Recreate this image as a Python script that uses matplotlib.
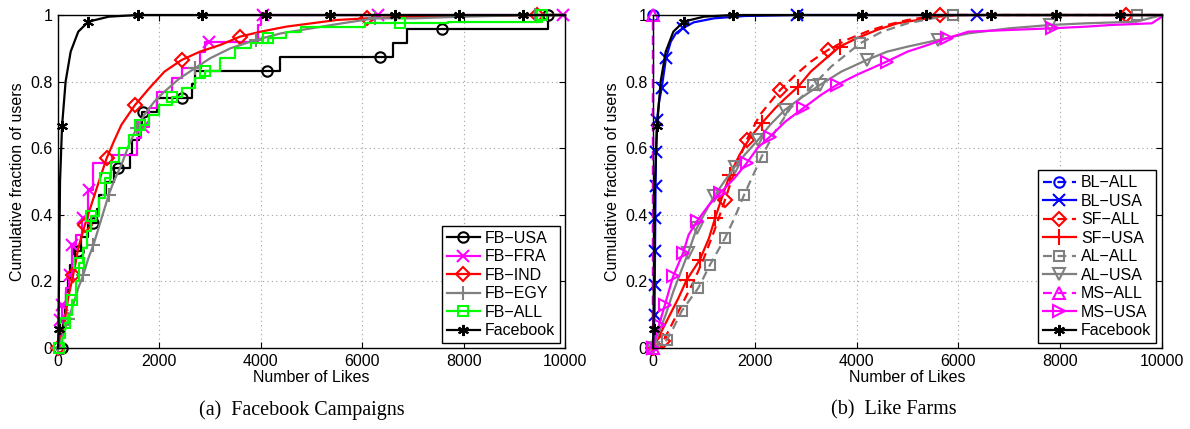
import numpy as np
import matplotlib
matplotlib.use("Agg")
import matplotlib.pyplot as plt

plt.rcParams['font.family'] = ['Liberation Sans', 'DejaVu Sans']

# ---------------- Panel (a): Facebook Campaigns ----------------
fb_x = [0, 10, 40, 80, 150, 250, 400, 600, 1000, 1570, 2840, 4100, 5370, 6650, 7910, 9170, 10000]
fb_y = [0, 0.057, 0.5, 0.667, 0.8, 0.89, 0.95, 0.98, 0.995, 1.0, 1.0, 1.0, 1.0, 1.0, 1.0, 1.0, 1.0]
fb_marks = [1, 3, 7, 9, 10, 11, 12, 13, 14, 15]

usa_x = [0, 70, 80, 100, 130, 160, 200, 240, 330, 400, 450, 600, 700, 760, 800, 950, 1100, 1180, 1420,
         1450, 1600, 1650, 1680, 1950, 2440, 2650, 2700, 4115, 4380, 6350, 6610, 6880, 7580, 9670, 10000]
usa_y = [0, 0, 0.042, 0.083, 0.125, 0.167, 0.208, 0.25, 0.292, 0.292, 0.333, 0.375, 0.375, 0.417, 0.458,
         0.5, 0.542, 0.542, 0.583, 0.625, 0.667, 0.708, 0.708, 0.75, 0.75, 0.792, 0.833, 0.833, 0.875,
         0.875, 0.917, 0.958, 0.958, 1.0, 1.0]
usa_marks = [1, 9, 12, 17, 22, 24, 27, 29, 32, 33]

fra_x = [0, 40, 70, 150, 220, 240, 270, 350, 480, 490, 600, 610, 690, 1070, 1550, 1640, 1670, 1800, 1950,
         2250, 2450, 2800, 2900, 2980, 3950, 4000, 4040, 6310, 9960, 10000]
fra_y = [0, 0.085, 0.13, 0.18, 0.22, 0.22, 0.31, 0.34, 0.39, 0.39, 0.475, 0.475, 0.555, 0.58, 0.63,
         0.665, 0.665, 0.72, 0.77, 0.81, 0.84, 0.89, 0.92, 0.92, 0.97, 1.0, 1.0, 1.0, 1.0, 1.0]
fra_marks = [1, 2, 5, 6, 9, 11, 16, 23, 26, 27, 28]

ind_x = [0, 100, 200, 300, 400, 530, 700, 850, 960, 1100, 1250, 1520, 1800, 2100, 2440, 2800, 3200,
         3590, 4000, 4500, 5000, 5500, 6090, 7000, 9440, 10000]
ind_y = [0, 0.05, 0.15, 0.22, 0.3, 0.37, 0.45, 0.52, 0.57, 0.62, 0.67, 0.73, 0.78, 0.83, 0.865, 0.89,
         0.91, 0.935, 0.95, 0.965, 0.975, 0.985, 0.99, 0.995, 1.0, 1.0]
ind_marks = [0, 3, 5, 8, 11, 14, 17, 22, 24]

egy_x = [0, 100, 200, 300, 400, 500, 600, 700, 800, 900, 1000, 1100, 1250, 1400, 1550, 1700, 1900, 2100,
         2400, 2700, 3000, 3400, 3900, 4400, 5000, 5600, 6250, 7000, 8000, 9400, 10000]
egy_y = [0, 0.04, 0.086, 0.13, 0.18, 0.22, 0.27, 0.31, 0.36, 0.41, 0.46, 0.5, 0.55, 0.61, 0.66, 0.7,
         0.74, 0.77, 0.81, 0.84, 0.87, 0.9, 0.925, 0.945, 0.96, 0.975, 0.99, 0.99, 0.995, 1.0, 1.0]
egy_marks = [0, 2, 5, 7, 10, 14, 19, 22, 26, 29]

all_x = [0, 20, 80, 140, 200, 270, 350, 420, 500, 580, 660, 800, 930, 1050, 1200, 1400, 1620, 1800,
         2000, 2240, 2450, 2700, 2900, 3200, 3500, 3800, 4150, 4500, 4800, 6055, 6750, 7700, 9500, 9540, 10000]
all_y = [0, 0, 0.03, 0.074, 0.1, 0.144, 0.2, 0.255, 0.3, 0.35, 0.396, 0.45, 0.51, 0.56, 0.6, 0.64, 0.67,
         0.7, 0.73, 0.753, 0.78, 0.81, 0.833, 0.87, 0.9, 0.915, 0.93, 0.95, 0.965, 0.975, 0.975, 0.98, 0.98,
         1.0, 1.0]
all_marks = [1, 3, 5, 7, 10, 12, 16, 19, 22, 26, 30, 33]

# ---------------- Panel (b): Like Farms ----------------
blall_x = [0, 0]
blall_y = [0, 1.0]

blusa_x = [0, 30, 35, 40, 45, 50, 60, 80, 120, 170, 255, 350, 450, 580, 800, 1200, 1800, 2820, 6370, 10000]
blusa_y = [0, 0.1, 0.19, 0.29, 0.39, 0.485, 0.59, 0.685, 0.74, 0.78, 0.87, 0.92, 0.945, 0.96, 0.978,
           0.99, 0.997, 1.0, 1.0, 1.0]
blusa_marks = [1, 2, 3, 4, 5, 6, 7, 9, 10, 13, 17, 18]

sfall_x = [0, 200, 400, 600, 800, 1000, 1200, 1415, 1600, 1840, 2100, 2500, 2800, 3100, 3440, 3800,
           4200, 4600, 5000, 5640, 9300, 10000]
sfall_y = [0, 0.02, 0.08, 0.14, 0.2, 0.27, 0.35, 0.445, 0.53, 0.625, 0.7, 0.775, 0.82, 0.86, 0.895,
           0.925, 0.95, 0.97, 0.985, 1.0, 1.0, 1.0]
sfall_marks = [1, 7, 9, 11, 14, 19, 20]

sfusa_x = [0, 100, 300, 500, 660, 920, 1100, 1220, 1350, 1510, 1700, 1900, 2135, 2400, 2600, 2855,
           3100, 3400, 3670, 4000, 4400, 4800, 5200, 5600, 6000, 10000]
sfusa_y = [0, 0.03, 0.09, 0.15, 0.204, 0.265, 0.33, 0.39, 0.45, 0.52, 0.58, 0.63, 0.675, 0.72, 0.75,
           0.785, 0.83, 0.87, 0.905, 0.93, 0.955, 0.975, 0.985, 0.995, 1.0, 1.0]
sfusa_marks = [0, 4, 5, 7, 9, 12, 15, 18]

alall_x = [0, 100, 270, 400, 560, 700, 890, 1120, 1415, 1600, 1790, 2000, 2135, 2400, 2700, 3150, 3500,
           4070, 4500, 5000, 5500, 5890, 9510, 10000]
alall_y = [0, 0.005, 0.024, 0.06, 0.11, 0.14, 0.18, 0.25, 0.33, 0.39, 0.46, 0.53, 0.575, 0.65, 0.72,
           0.79, 0.845, 0.915, 0.95, 0.975, 0.99, 1.0, 1.0, 1.0]
alall_marks = [2, 4, 6, 7, 8, 10, 12, 15, 17, 21, 22]

alusa_x = [0, 100, 250, 400, 550, 690, 860, 1000, 1200, 1400, 1610, 1800, 2065, 2300, 2590, 2900, 3280,
           3700, 4200, 4600, 5000, 5600, 6200, 7000, 7800, 8500, 9500, 10000]
alusa_y = [0, 0.04, 0.1, 0.17, 0.23, 0.285, 0.36, 0.4, 0.455, 0.5, 0.545, 0.58, 0.625, 0.67, 0.715,
           0.75, 0.79, 0.83, 0.865, 0.89, 0.905, 0.925, 0.945, 0.96, 0.97, 0.975, 0.98, 1.0]
alusa_marks = [0, 5, 6, 8, 10, 12, 14, 16, 18, 21, 24]

msall_x = [0, 0]
msall_y = [0, 1.0]

msusa_x = [0, 50, 120, 235, 395, 590, 700, 860, 1100, 1315, 1600, 1840, 2050, 2300, 2600, 2950, 3300,
           3610, 4000, 4590, 5000, 5400, 5770, 6200, 7000, 7830, 8500, 9000, 9800, 10000]
msusa_y = [0, 0.03, 0.07, 0.13, 0.215, 0.285, 0.34, 0.38, 0.43, 0.465, 0.51, 0.555, 0.6, 0.635, 0.68,
           0.72, 0.76, 0.79, 0.82, 0.86, 0.89, 0.91, 0.93, 0.95, 0.955, 0.96, 0.965, 0.97, 0.975, 0.995]
msusa_marks = [0, 2, 3, 4, 5, 7, 9, 11, 13, 15, 17, 19, 22, 25]

x_ticks = [0, 2000, 4000, 6000, 8000, 10000]
y_ticks = [0, 0.2, 0.4, 0.6, 0.8, 1.0]
y_tick_labels = ['0', '0.2', '0.4', '0.6', '0.8', '1']

BLACK = '#000000'
MAGENTA = '#FF00FF'
RED = '#FF0000'
GRAY = '#808080'
GREEN = '#00FF00'
BLUE = '#0000FF'

FS = 11.5
LW = 1.6
MS = 7.5

fig = plt.figure(figsize=(11.9, 4.29), dpi=100)
axa = fig.add_axes([58 / 1190, 81 / 429, 507 / 1190, 333 / 429])
axb = fig.add_axes([653 / 1190, 81 / 429, 509 / 1190, 333 / 429])


def draw(ax, x, y, color, marker, label, marks, ls='-', steps=False, ms=MS):
    ax.plot(x, y, color=color, ls=ls, lw=LW, marker=marker, markevery=marks, ms=ms,
            mfc='none', mec=color, mew=1.5, label=label, clip_on=False,
            drawstyle='steps-post' if steps else 'default', dashes=(4, 2.5) if ls == '--' else (None, None))


def style(ax):
    ax.set_xlim(0, 10000)
    ax.set_ylim(0, 1)
    ax.set_xticks(x_ticks)
    ax.set_xticklabels([str(t) for t in x_ticks])
    ax.set_yticks(y_ticks)
    ax.set_yticklabels(y_tick_labels)
    ax.tick_params(direction='in', top=True, right=True, labelsize=FS, length=4, width=0.8, pad=4)
    ax.grid(True, ls=(0, (1, 3)), color='#a0a0a0', lw=0.8)
    for s in ax.spines.values():
        s.set_linewidth(1.0)
    ax.set_xlabel('Number of Likes', fontsize=FS, labelpad=1)
    ax.set_ylabel('Cumulative fraction of users', fontsize=FS, labelpad=4)


draw(axa, usa_x, usa_y, BLACK, 'o', 'FB\u2212USA', usa_marks, steps=True)
draw(axa, fra_x, fra_y, MAGENTA, 'x', 'FB\u2212FRA', fra_marks, steps=True, ms=9)
draw(axa, ind_x, ind_y, RED, 'D', 'FB\u2212IND', ind_marks, ms=7)
draw(axa, egy_x, egy_y, GRAY, '+', 'FB\u2212EGY', egy_marks, ms=10)
draw(axa, all_x, all_y, GREEN, 's', 'FB\u2212ALL', all_marks, steps=True)
draw(axa, fb_x, fb_y, BLACK, (6, 2, 0), 'Facebook', fb_marks, ms=8)
style(axa)

draw(axb, blall_x, blall_y, BLUE, 'o', 'BL\u2212ALL', [1], ls='--')
draw(axb, blusa_x, blusa_y, BLUE, 'x', 'BL\u2212USA', blusa_marks, ms=9)
draw(axb, sfall_x, sfall_y, RED, 'D', 'SF\u2212ALL', sfall_marks, ls='--', ms=7)
draw(axb, sfusa_x, sfusa_y, RED, '+', 'SF\u2212USA', sfusa_marks, ms=12)
draw(axb, alall_x, alall_y, GRAY, 's', 'AL\u2212ALL', alall_marks, ls='--', ms=6.5)
draw(axb, alusa_x, alusa_y, GRAY, 'v', 'AL\u2212USA', alusa_marks, ms=8.5)
draw(axb, msall_x, msall_y, MAGENTA, '^', 'MS\u2212ALL', [0, 1], ls='--', ms=8.5)
draw(axb, msusa_x, msusa_y, MAGENTA, '>', 'MS\u2212USA', msusa_marks, ms=8.5)
draw(axb, fb_x, fb_y, BLACK, (6, 2, 0), 'Facebook', fb_marks, ms=8)
style(axb)

for ax, anchor in ((axa, (0.99, 0.015)), (axb, (0.988, 0.015))):
    leg = ax.legend(loc='lower right', bbox_to_anchor=anchor, borderaxespad=0, fontsize=FS,
                    frameon=True, fancybox=False, framealpha=1, edgecolor='black',
                    handlelength=2.1, handletextpad=0.3, labelspacing=0.22, borderpad=0.3)
    leg.get_frame().set_linewidth(1.0)

fig.text(302 / 1190, 1 - 410 / 429, '(a)  Facebook Campaigns', ha='center', va='center',
         fontsize=14.5, family='Liberation Serif')
fig.text(894 / 1190, 1 - 410 / 429, '(b)  Like Farms', ha='center', va='center',
         fontsize=14.5, family='Liberation Serif')

fig.savefig('out.png', dpi=100)
